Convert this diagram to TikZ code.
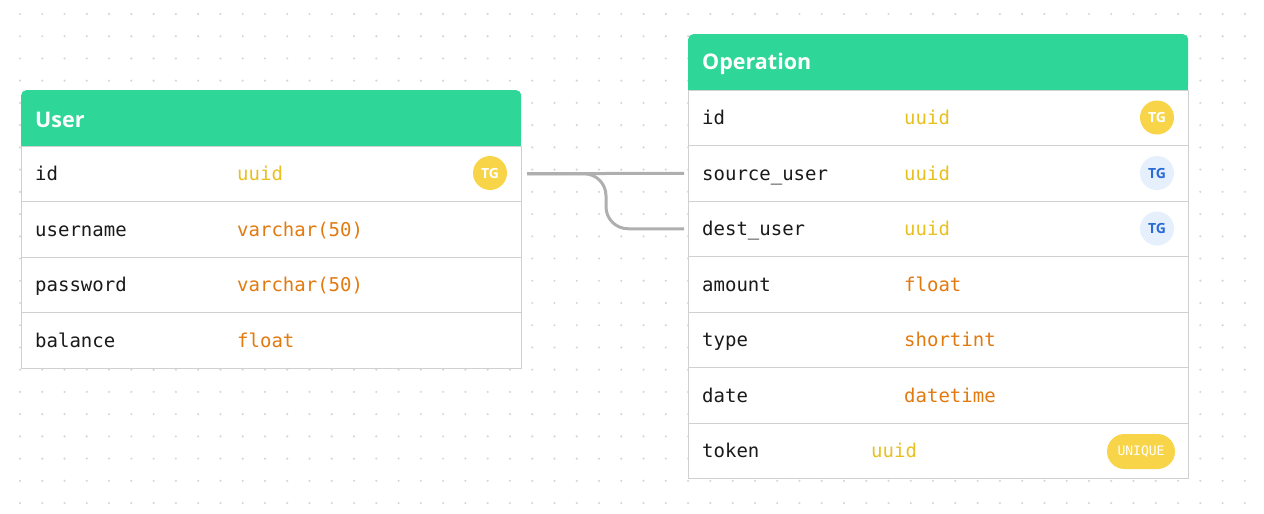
\documentclass[tikz,border=0pt]{standalone}
\usepackage{fontspec}
\setmainfont{Open Sans}
\setmonofont{DejaVu Sans Mono}
\usetikzlibrary{positioning}

\definecolor{hdrgreen}{HTML}{2ED698}
\definecolor{rowline}{HTML}{D0D0D0}
\definecolor{dotc}{HTML}{D6D6D6}
\definecolor{ink}{HTML}{1A1A1A}
\definecolor{uuidc}{HTML}{E8C020}
\definecolor{typec}{HTML}{E27A10}
\definecolor{badgey}{HTML}{F8D548}
\definecolor{badgeb}{HTML}{E6F0FD}
\definecolor{badgebt}{HTML}{2B6BD6}
\definecolor{relc}{HTML}{AFAFAF}

\begin{document}
\begin{tikzpicture}[
  x=1pt, y=-1pt,
  every node/.style={inner sep=0pt},
  head/.style={fill=hdrgreen, rounded corners=5pt, minimum width=500pt,
               minimum height=55.5pt, anchor=north west},
  title/.style={font=\fontsize{21.5}{24}\selectfont\bfseries, text=white,
                anchor=west},
  row/.style={draw=rowline, line width=1pt, fill=white, minimum width=500pt,
              minimum height=55.5pt, anchor=north west},
  fname/.style={font=\fontsize{19}{22}\selectfont\ttfamily, text=ink,
                anchor=base west},
  ftype/.style={font=\fontsize{19}{22}\selectfont\ttfamily, anchor=base west},
  tgy/.style={circle, fill=badgey, minimum size=34pt, text=white,
              font=\fontsize{14}{16}\selectfont\bfseries},
  tgb/.style={circle, fill=badgeb, minimum size=34pt, text=badgebt,
              font=\fontsize{14}{16}\selectfont\bfseries},
  pill/.style={rectangle, rounded corners=17.5pt, fill=badgey, text=white,
               minimum width=68pt, minimum height=35pt,
               font=\fontsize{13}{14}\selectfont\ttfamily},
  rel/.style={draw=relc, line width=3pt, shorten <=5pt, shorten >=4pt},
]
\useasboundingbox (0,0) rectangle (1264,514);

%% dotted canvas
\foreach \i in {0,...,55}
  \foreach \j in {0,...,22}
    \fill[dotc] (20+\i*22.27, 14+\j*22.23) circle (1.2pt);

%% User table
\node[head] (u-head) at (21,90) {};
\fill[hdrgreen] (u-head.west) rectangle (u-head.south east);
\node[title] at ([xshift=14pt, yshift=-1.5pt]u-head.west) {User};
\foreach \key/\f/\t/\c [count=\k from 0] in
  {id/id/uuid/uuidc, usr/username/varchar(50)/typec,
   pwd/password/varchar(50)/typec, bal/balance/float/typec} {
  \node[row] (u-\key) at (21,145.5+\k*55.5) {};
  \node[fname] at ([xshift=14pt, yshift=-7pt]u-\key.west) {\f};
  \node[ftype, text=\c] at ([xshift=216pt, yshift=-7pt]u-\key.west) {\t};
}
\node[tgy] (u-id-tg) at (490,173) {TG};

%% Operation table
\node[head] (o-head) at (688,34) {};
\fill[hdrgreen] (o-head.west) rectangle (o-head.south east);
\node[title] at ([xshift=14pt, yshift=-1.5pt]o-head.west) {Operation};
\foreach \key/\f/\t/\c/\dx [count=\k from 0] in
  {id/id/uuid/uuidc/216, src/source\_user/uuid/uuidc/216,
   dst/dest\_user/uuid/uuidc/216, amt/amount/float/typec/216,
   typ/type/shortint/typec/216, dat/date/datetime/typec/216,
   tok/token/uuid/uuidc/183} {
  \node[row] (o-\key) at (688,89.5+\k*55.5) {};
  \node[fname] at ([xshift=14pt, yshift=-7pt]o-\key.west) {\f};
  \node[ftype, text=\c] at ([xshift=\dx pt, yshift=-7pt]o-\key.west) {\t};
}
\node[tgy] (o-id-tg)  at (1157,117.5) {TG};
\node[tgb] (o-src-tg) at (1157,173) {TG};
\node[tgb] (o-dst-tg) at (1157,228.5) {TG};
\node[pill] (o-tok-uq) at (1141,451.5) {UNIQUE};

%% relations
\draw[rel] (u-id.east) -- (o-src.west);
\draw[rel, rounded corners=22pt] (u-id.east) -- ++(84,0) |- (o-dst.west);

\end{tikzpicture}
\end{document}
